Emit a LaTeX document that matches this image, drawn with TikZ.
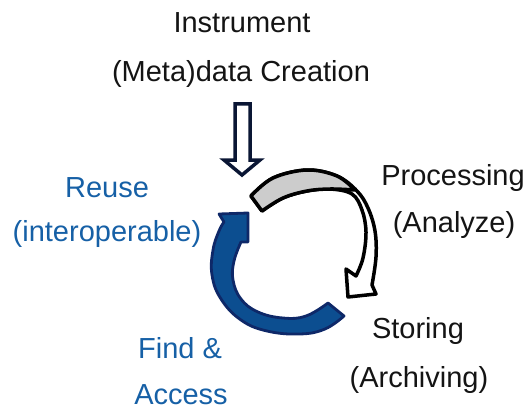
\documentclass[tikz,border=0pt]{standalone}
\usepackage{fontspec}
\setmainfont{Liberation Sans}
\definecolor{txtblue}{RGB}{22,96,166}
\definecolor{arrblue}{RGB}{12,78,144}
\definecolor{arrnavy}{RGB}{14,40,104}
\definecolor{arrgray}{RGB}{204,204,204}
\definecolor{darknavy}{RGB}{10,22,52}
\definecolor{txtblack}{RGB}{20,20,20}
\begin{document}
\begin{tikzpicture}[x=1pt,y=-1pt,
  lbl/.style={anchor=base, inner sep=0pt, font=\fontsize{29}{34}\selectfont, text=txtblack},
  lblblue/.style={lbl, text=txtblue},
  blockarrow/.style={fill=white, draw=darknavy, line width=3.5pt, line join=miter},
  grayarrow/.style={fill=white, draw=black, line width=3.5pt, line join=round},
  bluearrow/.style={fill=arrblue, draw=arrnavy, line width=2.8pt, line join=round}]
\useasboundingbox (0,0) rectangle (530,409);

% labels
\node[lbl] (instr) at (242,33) {Instrument};
\node[lbl] (meta) at (241,82) {(Meta)data Creation};
\node[lblblue] (reuse) at (107,197) {Reuse};
\node[lblblue] (interop) at (107,241) {(interoperable)};
\node[lbl] (proc) at (453,185) {Processing};
\node[lbl] (analyze) at (454,232) {(Analyze)};
\node[lbl] (storing) at (418,338) {Storing};
\node[lbl] (archiving) at (419,387) {(Archiving)};
\node[lblblue] (find) at (180,358) {Find \&};
\node[lblblue] (access) at (181,404) {Access};

% incoming block arrow
\draw[blockarrow] (235,104) -- (250,104) -- (250,160) -- (260,160) -- (242,175)
  -- (224,160) -- (235,160) -- cycle;

% twisted grey arrow: white underside first, then the grey top face
\draw[grayarrow]
  plot[smooth, tension=0.6] coordinates {(251,196) (273,178) (307,170) (337,176) (357,191) (368,208) (375,231) (376,257) (372,285)}
  -- (376,294) -- (348,297) -- (346,269) -- (356,276)
  -- plot[smooth, tension=0.6] coordinates {(356,276) (363,258) (366,232) (362,210) (352,194) (330,189) (307,191) (283,198) (262,211)}
  -- cycle;
\filldraw[fill=arrgray, draw=black, line width=3.5pt, line join=round]
  plot[smooth, tension=0.6] coordinates {(251,196) (273,178) (307,170) (337,176) (355,190)}
  -- plot[smooth, tension=0.6] coordinates {(355,190) (330,189) (307,191) (283,198) (262,211)}
  -- cycle;

% blue return arrow
\filldraw[bluearrow]
  plot[smooth, tension=0.7] coordinates {(344,316) (325,329) (300,334) (267,331) (241,320) (221,299) (212,275) (213,250) (219,231) (224,222)}
  -- (219,214) -- (248,213) -- (248,242) -- (241,242)
  -- plot[smooth, tension=0.7] coordinates {(241,242) (234,261) (233,280) (241,299) (258,312) (283,318) (306,316) (328,303)}
  -- cycle;
\end{tikzpicture}
\end{document}
